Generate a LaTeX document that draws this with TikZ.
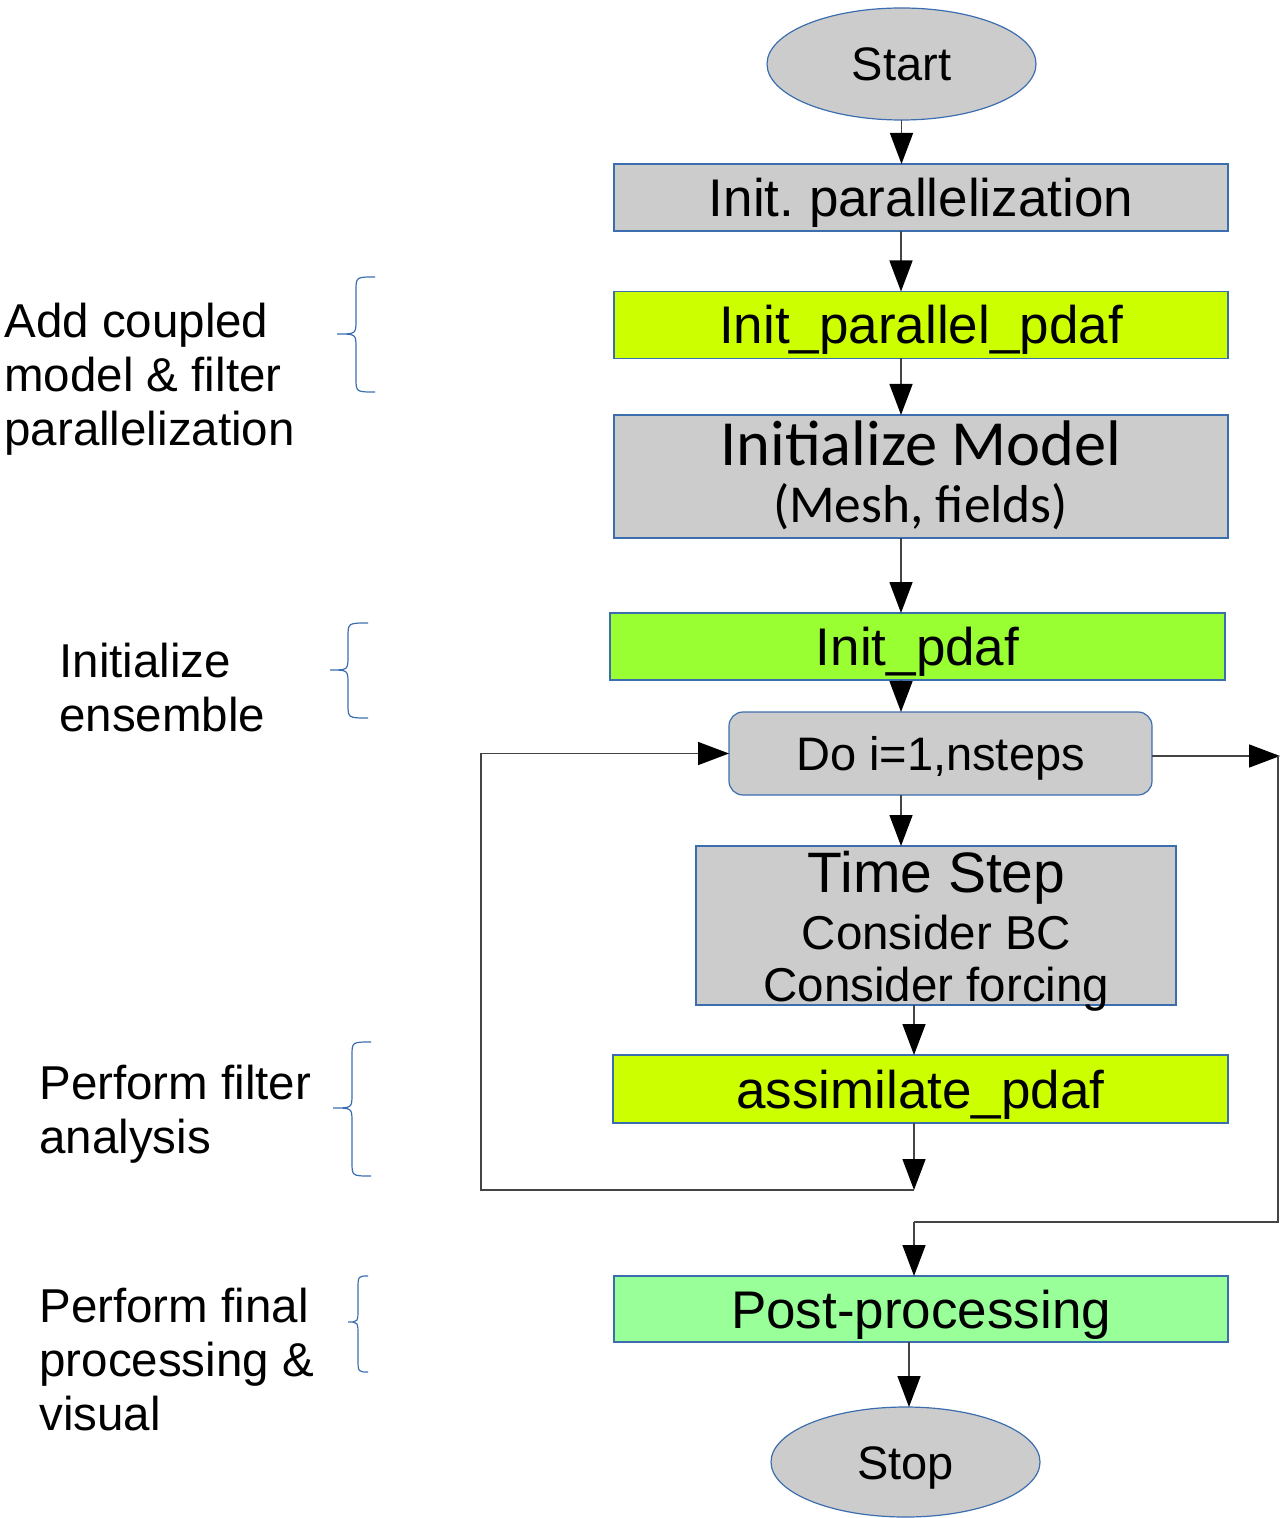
\documentclass[tikz,border=0pt]{standalone}
\usepackage{fontspec}
\setmainfont{Liberation Sans}
\newfontfamily\carlito{Carlito}
\usetikzlibrary{shapes.geometric,arrows.meta}
\definecolor{edgeblue}{RGB}{60,110,175}
\definecolor{boxgray}{HTML}{CCCCCC}
\definecolor{limey}{HTML}{CCFF00}
\definecolor{grassy}{HTML}{99FF33}
\definecolor{mint}{HTML}{99FF99}
\definecolor{wire}{HTML}{444444}
\frenchspacing

% left-opening curly brace: x of ends, x of stem, x of tip, y top, y tip, y bottom
\newcommand\drawcurly[6]{%
  \draw[curly] (#1,#4) .. controls (#2,#4) .. (#2,#4+14) -- (#2,#5-14)
    .. controls (#2,#5) .. (#3,#5) .. controls (#2,#5) .. (#2,#5+14)
    -- (#2,#6-14) .. controls (#2,#6) .. (#1,#6);}

\begin{document}
\begin{tikzpicture}[x=0.5pt,y=-0.5pt,
  flowbox/.style={rectangle, draw=edgeblue, line width=0.6pt, fill=boxgray,
    inner sep=0pt, outer sep=0pt, minimum width=307pt, minimum height=33.5pt,
    font=\fontsize{26.5pt}{30pt}\selectfont, text height=19pt, text depth=0pt},
  terminal/.style={ellipse, draw=edgeblue, line width=0.6pt, fill=boxgray,
    inner sep=0pt, outer sep=0pt, minimum width=134.5pt, minimum height=56pt,
    font=\fontsize{23.5pt}{27pt}\selectfont, text height=17pt, text depth=0pt},
  boxline/.style={anchor=base, inner sep=0pt},
  flow/.style={draw=wire, line width=0.75pt,
    -{Triangle[length=15.5pt,width=11.5pt,color=black,fill=black]}},
  wireline/.style={draw=wire, line width=0.75pt},
  note/.style={anchor=base west, inner sep=0pt,
    font=\fontsize{23.75pt}{27pt}\selectfont},
  curly/.style={draw=edgeblue, line width=0.6pt}]

\useasboundingbox (0,0) rectangle (1282,1518);

% main flow
\node[terminal] (start) at (901.5,64) {Start};
\node[flowbox] (init) at (921,197.5) {Init. parallelization};
\node[flowbox, fill=limey] (ipp) at (921,325) {Init\_parallel\_pdaf};
\node[flowbox, minimum height=61.5pt] (im) at (921,476.5) {};
\node[boxline, font=\carlito\fontsize{32.2pt}{35pt}\selectfont] (imA) at (921,466) {Initialize Model};
\node[boxline, font=\carlito\fontsize{26.7pt}{30pt}\selectfont] (imB) at (920.5,522) {(Mesh, fields)};
\node[flowbox, fill=grassy, minimum width=307.5pt] (ipdaf) at (917.5,646.5) {Init\_pdaf};
\node[flowbox, rounded corners=7pt, minimum width=211.5pt, minimum height=41.5pt,
  font=\fontsize{23.5pt}{27pt}\selectfont, text height=17pt] (do) at (940.5,753.5) {Do i=1,nsteps};
\node[flowbox, minimum width=240pt, minimum height=79.5pt] (ts) at (936,925.5) {};
\node[boxline, font=\fontsize{28.5pt}{32pt}\selectfont] (tsA) at (936.5,892) {Time Step};
\node[boxline, font=\fontsize{23.75pt}{27pt}\selectfont] (tsB) at (936.5,949) {Consider BC};
\node[boxline, font=\fontsize{23.75pt}{27pt}\selectfont] (tsC) at (936.5,1001) {Consider forcing};
\node[flowbox, fill=limey, minimum width=307.5pt, minimum height=34pt] (asm) at (920.5,1089) {assimilate\_pdaf};
\node[flowbox, fill=mint, minimum height=33pt] (post) at (921,1309) {Post-processing};
\node[terminal, minimum height=55pt] (stop) at (905.5,1462) {Stop};

% connector columns and corners
\coordinate (spine) at (901,0);
\coordinate (lower) at (914,0);
\coordinate (postx) at (909,0);
\coordinate (back) at (914,1190);
\coordinate (lb) at (481,1190);
\coordinate (rt) at (1280,0);
\coordinate (rr) at (1278,1222);
\coordinate (exitrow) at (0,756);

\draw[flow] (start.south) -- (start.south |- init.north);
\draw[flow] (spine |- init.south) -- (spine |- ipp.north);
\draw[flow] (spine |- ipp.south) -- (spine |- im.north);
\draw[flow] (spine |- im.south) -- (spine |- ipdaf.north);
\draw[flow] (spine |- ipdaf.south) -- (spine |- do.north);
\draw[flow] (spine |- do.south) -- (spine |- ts.north);
\draw[flow] (lower |- ts.south) -- (lower |- asm.north);
\draw[flow] (lower |- asm.south) -- (back);
% loop back to the step counter
\draw[flow] (back) -- (lb) -- (lb |- do.west) -- (do.west);
% loop exit
\draw[flow] (do.east |- exitrow) -- (rt |- exitrow);
\draw[wireline] (rr |- exitrow) -- (rr) -- (lower |- rr);
\draw[flow] (lower |- rr) -- (lower |- post.north);
\draw[flow] (postx |- post.south) -- (postx |- stop.north);

% side notes
\node[note] (n1) at (4,338) {\begin{tabular}[t]{@{}l@{}}Add coupled\\ model \& filter\\ parallelization\end{tabular}};
\node[note] (n2) at (59,677) {\begin{tabular}[t]{@{}l@{}}Initialize\\ ensemble\end{tabular}};
\node[note] (n3) at (39,1099) {\begin{tabular}[t]{@{}l@{}}Perform filter\\ analysis\end{tabular}};
\node[note] (n4) at (39,1322) {\begin{tabular}[t]{@{}l@{}}Perform final\\ processing \&\\ visual\end{tabular}};

% braces
\drawcurly{375}{356}{337}{277}{334}{392}
\drawcurly{368}{348}{330}{623}{670}{718}
\drawcurly{371}{352}{333}{1042}{1108}{1176}
\drawcurly{368}{358}{348}{1276}{1322}{1372}

\end{tikzpicture}
\end{document}
